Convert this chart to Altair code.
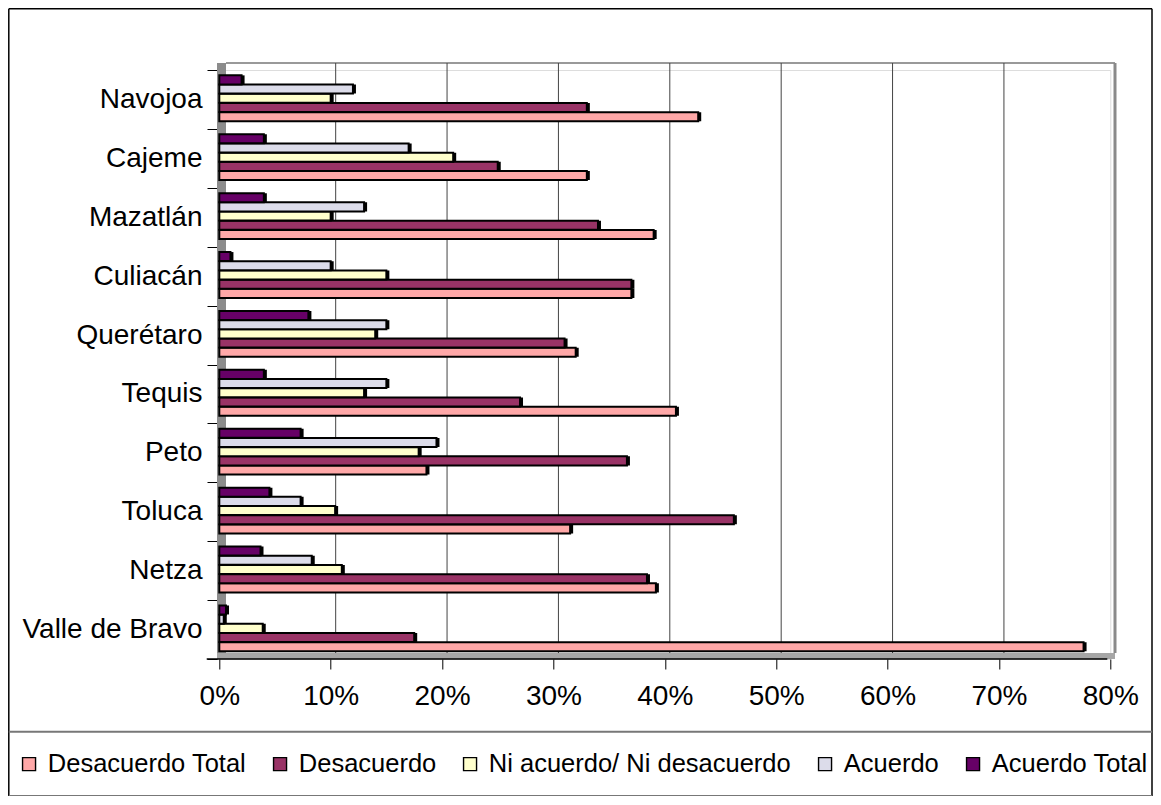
import altair as alt
import pandas as pd

# ---------------- data ----------------
cities = ["Navojoa", "Cajeme", "Mazatlán", "Culiacán", "Querétaro",
          "Tequis", "Peto", "Toluca", "Netza", "Valle de Bravo"]
series_names = ["Desacuerdo Total", "Desacuerdo", "Ni acuerdo/ Ni desacuerdo",
                "Acuerdo", "Acuerdo Total"]
desacuerdo_total = [43.0, 33.0, 39.0, 37.0, 32.0, 41.0, 18.6, 31.5, 39.2, 77.6]
desacuerdo = [33.0, 25.0, 34.0, 37.0, 31.0, 27.0, 36.6, 46.2, 38.4, 17.5]
ni_acuerdo = [10.0, 21.0, 10.0, 15.0, 14.0, 13.0, 17.9, 10.4, 11.0, 3.9]
acuerdo = [12.0, 17.0, 13.0, 10.0, 15.0, 15.0, 19.5, 7.3, 8.3, 0.4]
acuerdo_total = [2.0, 4.0, 4.0, 1.0, 8.0, 4.0, 7.3, 4.5, 3.7, 0.6]
x_ticks = [0, 0.1, 0.2, 0.3, 0.4, 0.5, 0.6, 0.7, 0.8]
grid_vals = [0.1, 0.2, 0.3, 0.4, 0.5, 0.6, 0.7]

colors = ["#FFA8A8", "#993366", "#FFFFCC", "#DCDCEA", "#660066"]

series_values = [desacuerdo_total, desacuerdo, ni_acuerdo, acuerdo, acuerdo_total]
rows = []
for name, vals in zip(series_names, series_values):
    for c, v in zip(cities, vals):
        rows.append({"city": c, "series": name, "value": v / 100.0})
df = pd.DataFrame(rows)

FONT = "Liberation Sans"
W, H = 891, 589

x_scale = alt.Scale(domain=[0, 0.8], nice=False, zero=True)
x_axis = alt.Axis(values=x_ticks, format=".0%", grid=False, domain=False,
                  tickColor="black", tickSize=10, tickWidth=1,
                  labelFontSize=28, labelColor="black", labelFont=FONT,
                  labelPadding=13, labelFlush=False, labelOverlap=False,
                  title=None)
y_enc = alt.Y("city:N", sort=cities,
              scale=alt.Scale(paddingInner=0, paddingOuter=0),
              axis=alt.Axis(domain=False, tickBand="extent", tickColor="black",
                            tickSize=10, tickWidth=1, labelFontSize=28,
                            labelColor="black", labelFont=FONT, labelPadding=5,
                            labelLimit=400, offset=2.3, grid=False, title=None))
yoff_enc = alt.YOffset("series:N",
                       scale=alt.Scale(domain=list(reversed(series_names)),
                                       paddingInner=0.02, paddingOuter=0.71,
                                       align=0.41))
x_enc = alt.X("value:Q", scale=x_scale, axis=x_axis)

one = pd.DataFrame({"d": [1]})


def rule(x1, x2, y1, y2, color, width):
    return alt.Chart(one).mark_rule(color=color, strokeWidth=width).encode(
        x=alt.value(x1), x2=alt.value(x2), y=alt.value(y1), y2=alt.value(y2))


def rect(x1, x2, y1, y2, color):
    return alt.Chart(one).mark_rect(color=color).encode(
        x=alt.value(x1), x2=alt.value(x2), y=alt.value(y1), y2=alt.value(y2))


# 3D walls
left_wall = rect(-2.3, 6.7, -7, H, "#8C8C8C")
floor = rect(-2.3, 895.7, 583, H, "#A6A6A6")
back_top = rule(6.7, 895.7, -7, -7, "#999999", 2)
right_edge = rule(895.7, 895.7, -7, 583, "#8A8A8A", 3)

grid = alt.Chart(pd.DataFrame({"value": grid_vals})).mark_rule(
    color="#444444", strokeWidth=1, xOffset=5).encode(
    x=alt.X("value:Q", scale=x_scale, axis=x_axis),
    y=alt.value(-7), y2=alt.value(583))

shadow = alt.Chart(df).mark_bar(color="#000000", xOffset=3, yOffset=-3).encode(
    x=x_enc, y=y_enc, yOffset=yoff_enc)

bars = alt.Chart(df).mark_bar(stroke="black", strokeWidth=2).encode(
    x=x_enc, y=y_enc, yOffset=yoff_enc,
    color=alt.Color("series:N",
                    scale=alt.Scale(domain=series_names, range=colors),
                    legend=alt.Legend(orient="none", legendX=-203, legendY=681,
                                      direction="horizontal", title=None,
                                      symbolType="square", symbolSize=169,
                                      symbolStrokeColor="black",
                                      symbolStrokeWidth=1.4,
                                      labelFontSize=25.5, labelFont=FONT,
                                      labelColor="black", labelLimit=400,
                                      labelOffset=6, columnPadding=21,
                                      padding=0)))

floor_front = rule(-12.6, 888, H, H, "#000000", 1.5)

# outer frame and legend separator
frame_left = rule(-210.5, -210.5, -61.3, 726, "#000000", 1.5)
frame_top = rule(-210.5, 932.7, -61.3, -61.3, "#000000", 1.5)
frame_right = rule(932.7, 932.7, -61.3, 726, "#000000", 1.5)
frame_bottom = rule(-210.5, 932.7, 726, 726, "#777777", 2)
separator = rule(-210.5, 932.7, 661.7, 661.7, "#777777", 2)

chart = alt.layer(
    left_wall, floor, back_top, right_edge, grid, shadow, bars, floor_front,
    frame_left, frame_top, frame_right, frame_bottom, separator
).resolve_scale(x="shared").properties(
    width=W, height=H,
    padding={"left": 211.3, "top": 62, "right": 42.7, "bottom": 137},
    autosize=alt.AutoSizeParams(type="none"),
    background="white"
).configure_view(strokeWidth=0).configure(font=FONT)

chart.save("out.html", embed_options={"renderer": "svg", "actions": False})
